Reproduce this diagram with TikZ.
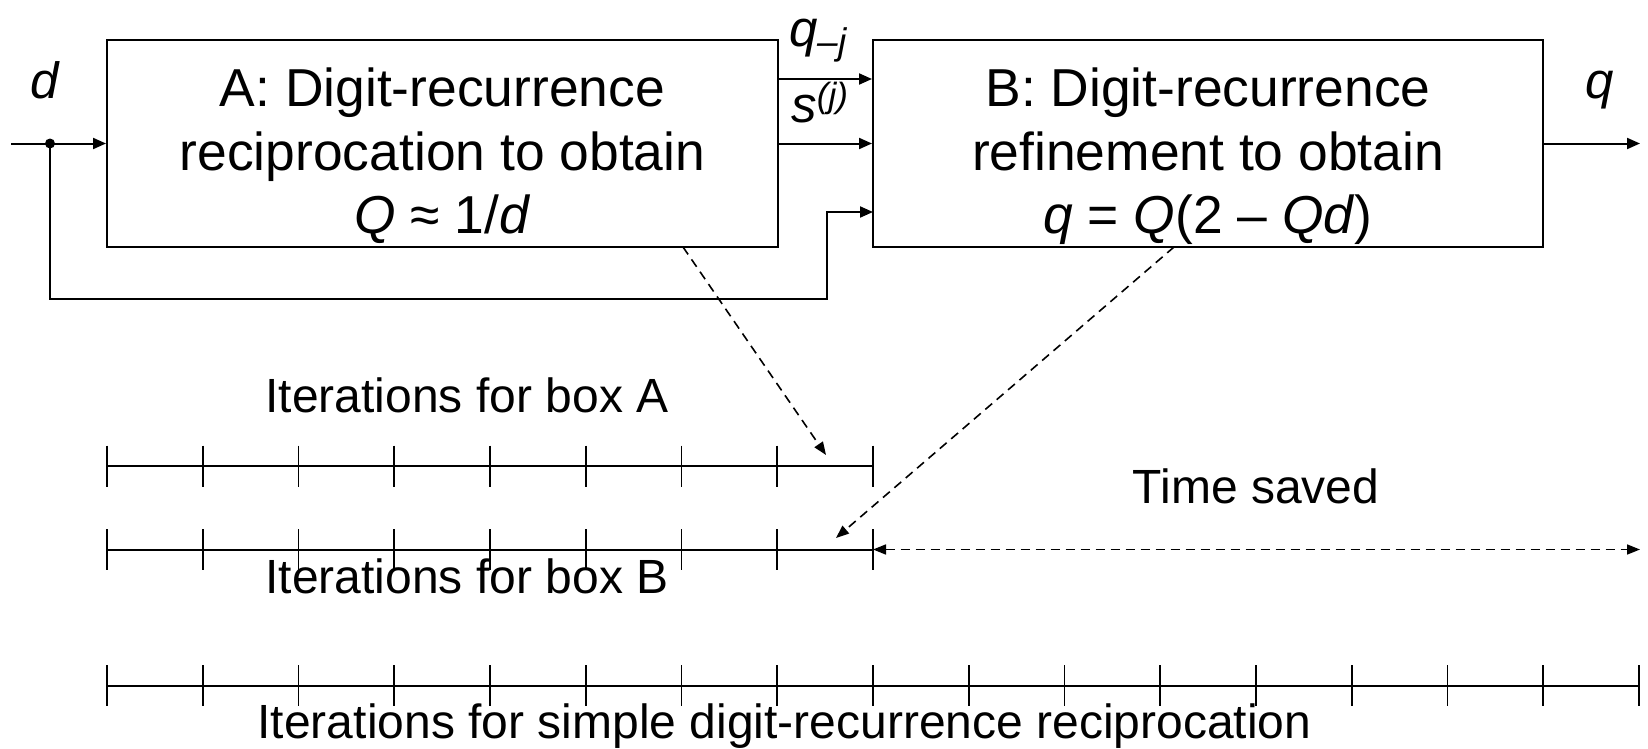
\documentclass[tikz,border=0pt]{standalone}
\usepackage{fontspec}
\setmainfont{Liberation Sans}
\usetikzlibrary{arrows.meta,calc}
\begin{document}
\begin{tikzpicture}[x=0.5pt,y=-0.5pt,
  boxstyle/.style={draw,line width=1pt,minimum height=103.5pt,inner sep=0pt},
  boxtxt/.style={anchor=base,font=\fontsize{26.7}{31}\selectfont,inner sep=0pt},
  lbl/.style={anchor=base,font=\fontsize{24}{28}\selectfont,inner sep=0pt},
  sig/.style={anchor=base,font=\fontsize{25.5}{30}\selectfont\itshape,inner sep=0pt},
  conn/.style={line width=1pt,-{Triangle[length=6.5pt,width=5.5pt]}},
  tickln/.style={line width=0.8pt},
  axis/.style={line width=1pt},
  dsh/.style={line width=0.8pt,dash pattern=on 4.5pt off 3pt,-{Triangle[length=6.5pt,width=5pt]}}]
\fill[white] (0,0) rectangle (1648,749);
\useasboundingbox (0,0) rectangle (1648,749);

% boxes
\node[boxstyle,minimum width=335.5pt] (A) at (442.5,143.5) {};
\node[boxstyle,minimum width=335pt] (B) at (1208,143.5) {};
\node[boxtxt] (a1) at (442.5,107) {A: Digit-recurrence};
\node[boxtxt] (a2) at (442.5,170) {reciprocation to obtain};
\node[boxtxt] (a3) at (442.5,233) {\textit{Q} ≈ 1/\textit{d}};
\node[boxtxt] (b1) at (1208,107) {B: Digit-recurrence};
\node[boxtxt] (b2) at (1208,170) {refinement to obtain};
\node[boxtxt] (b3) at (1208,233) {\textit{q} = \textit{Q}(2 – \textit{Qd})};

% signals
\coordinate (in) at (11,143.5);
\coordinate (dj) at (50,143.5);
\draw[conn] (in) -- (A.west);
\fill (dj) circle (2.5pt);
\coordinate (fb) at (827,299);
\coordinate (fbB) at (873,212);
\draw[conn] (dj) |- (fb) |- (fbB);
\coordinate (qa) at (778,79);
\draw[conn] (qa) -- (qa -| B.west);
\draw[conn] (A.east) -- (B.west);
\coordinate (out) at (1640,143.5);
\draw[conn] (B.east) -- (out);

\node[sig] (ld) at (45,98) {d};
\node[sig,anchor=base west] (lq) at (789,47) {q\raisebox{-4pt}{\fontsize{18.5}{20}\selectfont –j}};
\node[sig,anchor=base west] (ls) at (791,122) {s\raisebox{7pt}{\fontsize{17.5}{19}\selectfont (j)}};
\node[sig] (lout) at (1600,98) {q};

% timelines
\foreach \r/\y/\n in {a/466/8, b/549.5/8, c/685.5/16} {
  \foreach \k in {0,...,\n} {
    \coordinate (t\r\k) at ({107+95.75*\k},\y);
    \draw[tickln] ($(t\r\k)+(0,-20.5)$) -- ($(t\r\k)+(0,20.5)$);
  }
  \draw[axis] (t\r0) -- (t\r\n);
}

\coordinate (tsend) at (1640,549.5);
\draw[dsh,{Triangle[length=6.5pt,width=5pt]}-{Triangle[length=6.5pt,width=5pt]}] (tb8) -- (tsend);

\coordinate (ad) at (683,247);
\coordinate (atip) at (826,455);
\draw[dsh] (ad) -- (atip);
\coordinate (bd) at (1174,247);
\coordinate (btip) at (836,538);
\draw[dsh] (bd) -- (btip);

\node[lbl] (itA) at (467,412) {Iterations for box A};
\node[lbl] (itB) at (467,593) {Iterations for box B};
\node[lbl] (ts) at (1256,503) {Time saved};
\node[lbl] (itC) at (784.5,738) {Iterations for simple digit-recurrence reciprocation};
\end{tikzpicture}
\end{document}
